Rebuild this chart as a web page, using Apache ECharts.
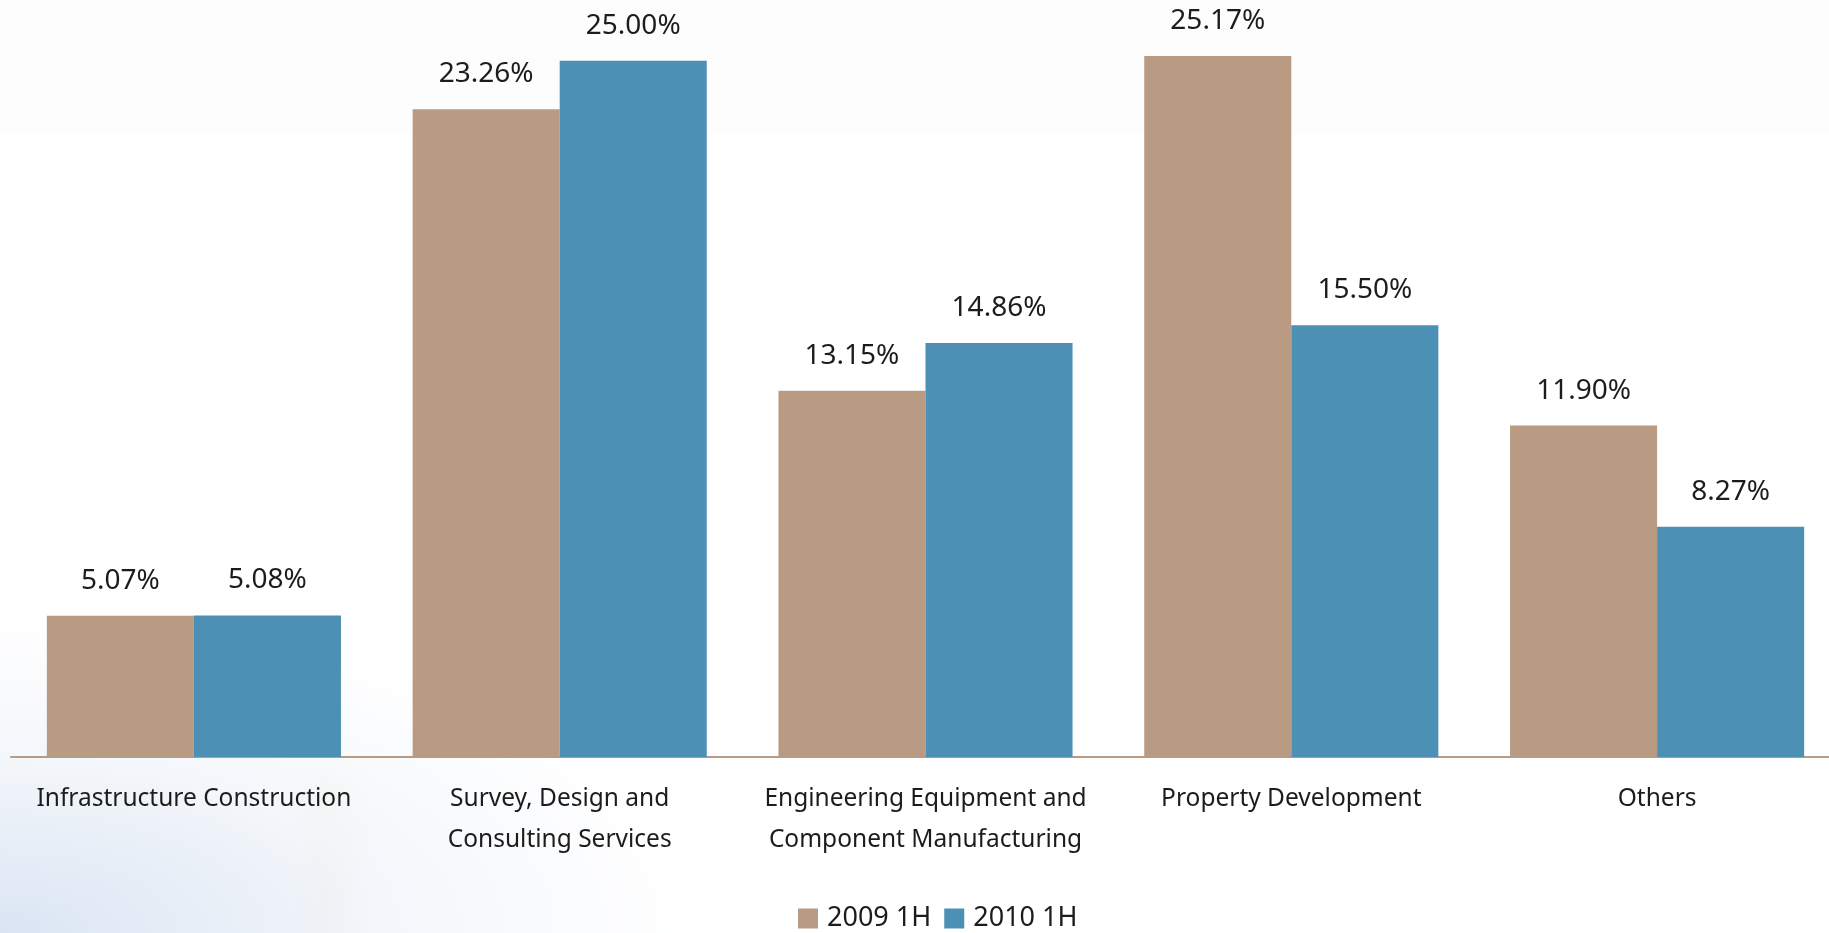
<!DOCTYPE html>
<html>
<head>
<meta charset="utf-8">
<title>Revenue growth by segment</title>
<script src="https://cdn.jsdelivr.net/npm/echarts@6/dist/echarts.min.js"></script>
<style>
  html, body { margin: 0; padding: 0; width: 1829px; height: 933px; overflow: hidden; background: #ffffff; }
  #bg {
    position: absolute; left: 0; top: 0; width: 1829px; height: 933px;
    background:
      linear-gradient(to bottom, #fdfdfd 0px, #fdfdfd 134px, rgba(255,255,255,0) 135px),
      radial-gradient(ellipse 700px 320px at 0px 933px, rgba(214,226,242,0.9), rgba(236,241,248,0.6) 55%, rgba(255,255,255,0) 100%),
      linear-gradient(to bottom, #ffffff 760px, rgba(255,255,255,0) 800px),
      linear-gradient(to right, rgba(255,255,255,0) 290px, rgba(250,245,232,0.6) 325px, rgba(255,255,255,0) 370px);
  }
  #chart { position: absolute; left: 0; top: 0; width: 1829px; height: 933px; }
</style>
</head>
<body>
<div id="bg"></div>
<div id="chart"></div>
<script>
// Segment growth figures, first half of 2009 vs first half of 2010
const categories = [
  'Infrastructure Construction',
  'Survey, Design and\nConsulting Services',
  'Engineering Equipment and\nComponent Manufacturing',
  'Property Development',
  'Others'
];
const seriesNames = ['2009 1H', '2010 1H'];
const values2009 = [5.07, 23.26, 13.15, 25.17, 11.90];
const values2010 = [5.08, 25.00, 14.86, 15.50, 8.27];

const colors = ['#B89B82', '#4C90B5'];
const textColor = '#1c1c1c';
const fontFamily = '"Noto Sans", "Open Sans", sans-serif';

const chart = echarts.init(document.getElementById('chart'), null, { renderer: 'canvas' });

function barSeries(name, data, color) {
  return {
    name: name,
    type: 'bar',
    data: data,
    barGap: '0%',
    barCategoryGap: '19.6%',
    itemStyle: { color: color },
    label: {
      show: true,
      position: 'top',
      distance: 21,
      color: textColor,
      fontFamily: fontFamily,
      fontSize: 28,
      formatter: p => p.value.toFixed(2) + '%'
    }
  };
}

chart.setOption({
  animation: false,
  backgroundColor: 'transparent',
  textStyle: { fontFamily: fontFamily },
  grid: { left: 11, top: 5, right: -11, bottom: 176, containLabel: false, outerBoundsMode: 'none' },
  legend: {
    data: seriesNames,
    left: 798,
    top: 905,
    padding: 0,
    icon: 'rect',
    itemWidth: 20,
    itemHeight: 20,
    itemGap: 13,
    textStyle: { color: textColor, fontSize: 27, fontFamily: fontFamily, padding: [0, 0, 0, 4] }
  },
  xAxis: {
    type: 'category',
    data: categories,
    axisLine: { show: true, lineStyle: { color: '#B89B82', width: 2 } },
    axisTick: { show: false },
    axisLabel: {
      interval: 0,
      margin: 22,
      color: textColor,
      fontSize: 24.5,
      lineHeight: 41,
      fontFamily: fontFamily
    }
  },
  yAxis: {
    type: 'value',
    min: 0,
    max: 27,
    show: false,
    splitLine: { show: false }
  },
  series: [
    barSeries(seriesNames[0], values2009, colors[0]),
    barSeries(seriesNames[1], values2010, colors[1])
  ]
});
</script>
</body>
</html>
